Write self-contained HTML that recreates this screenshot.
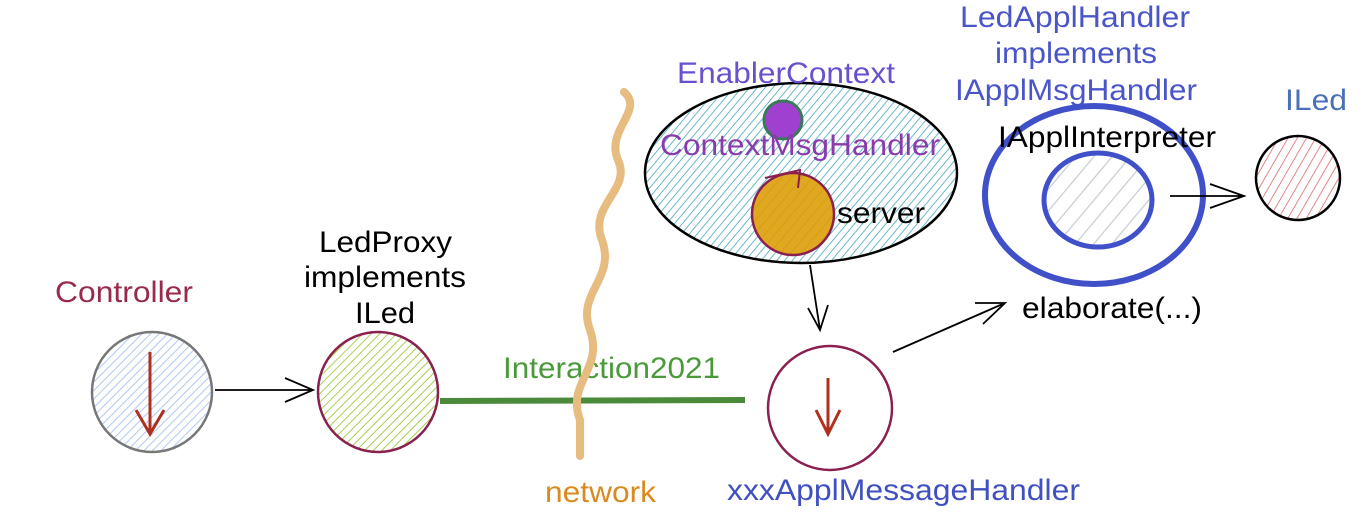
<!DOCTYPE html>
<html><head><meta charset="utf-8"><style>html,body{margin:0;padding:0;background:#fff;width:1366px;height:520px;overflow:hidden}</style></head><body>
<svg width="1366" height="520" viewBox="0 0 1366 520" xmlns="http://www.w3.org/2000/svg" font-family="Liberation Sans, sans-serif" font-size="30">
<defs>
<pattern id="hb" width="6" height="6" patternUnits="userSpaceOnUse" patternTransform="rotate(45)"><line x1="0" y1="0" x2="0" y2="6" stroke="#a8c4ec" stroke-width="1.8"/></pattern>
<pattern id="hg" width="6" height="6" patternUnits="userSpaceOnUse" patternTransform="rotate(45)"><line x1="0" y1="0" x2="0" y2="6" stroke="#a8d050" stroke-width="2"/></pattern>
<pattern id="hc" width="6" height="6" patternUnits="userSpaceOnUse" patternTransform="rotate(40)"><line x1="0" y1="0" x2="0" y2="6" stroke="#5ab0c4" stroke-width="1.8"/></pattern>
<pattern id="hy" width="8" height="8" patternUnits="userSpaceOnUse" patternTransform="rotate(40)"><rect width="8" height="8" fill="#e0a820"/><line x1="0" y1="0" x2="0" y2="8" stroke="#d49a10" stroke-width="1.5"/></pattern>
<pattern id="hgr" width="14" height="14" patternUnits="userSpaceOnUse" patternTransform="rotate(40)"><line x1="0" y1="0" x2="0" y2="14" stroke="#c8ccd4" stroke-width="2.5"/></pattern>
<pattern id="hr" width="8" height="8" patternUnits="userSpaceOnUse" patternTransform="rotate(30)"><line x1="0" y1="0" x2="0" y2="8" stroke="#e07878" stroke-width="1.8"/></pattern>
</defs>
<!-- Controller -->
<text x="55" y="302" fill="#9a2a4a" textLength="138" lengthAdjust="spacingAndGlyphs">Controller</text>
<circle cx="152" cy="392" r="60" fill="url(#hb)" stroke="#777" stroke-width="2.5"/>
<path d="M150 352 L150 432 M136 410 L150 434 L164 410" fill="none" stroke="#b03020" stroke-width="3"/>
<path d="M215 390 L313 390 M285 378 L313 390 L285 402" fill="none" stroke="#000" stroke-width="1.8"/>
<!-- LedProxy -->
<g fill="#000"><text x="319" y="252" textLength="133" lengthAdjust="spacingAndGlyphs">LedProxy</text><text x="304" y="287" textLength="162" lengthAdjust="spacingAndGlyphs">implements</text><text x="355" y="323" textLength="60" lengthAdjust="spacingAndGlyphs">ILed</text></g>
<circle cx="378" cy="392" r="60" fill="url(#hg)" stroke="#8a2050" stroke-width="2.5"/>
<line x1="440" y1="401" x2="745" y2="400" stroke="#4a8a3a" stroke-width="6"/>
<text x="503" y="378" fill="#4a9a3a" textLength="217" lengthAdjust="spacingAndGlyphs">Interaction2021</text>
<!-- network -->
<path d="M624 92 C645 110 605 130 618 160 C632 190 588 205 602 240 C616 280 576 292 590 330 C604 370 566 382 580 420 L580 456" fill="none" stroke="#e6bc80" stroke-width="8" stroke-linecap="round"/>
<text x="545" y="502" fill="#d98a20" textLength="111" lengthAdjust="spacingAndGlyphs">network</text>
<!-- EnablerContext -->
<ellipse cx="801" cy="173" rx="156" ry="90" fill="url(#hc)" stroke="#000" stroke-width="2.5"/>
<text x="677" y="83" fill="#6a4fcf" textLength="218" lengthAdjust="spacingAndGlyphs">EnablerContext</text>
<circle cx="783" cy="120" r="19" fill="#a040d0" stroke="#3a7a5a" stroke-width="3"/>
<text x="660" y="155" fill="#8a3aaa" textLength="280" lengthAdjust="spacingAndGlyphs">ContextMsgHandler</text>
<circle cx="793" cy="214" r="41" fill="url(#hy)" stroke="#8a2050" stroke-width="2.5"/>
<path d="M765 178 L800 170 L798 188" fill="none" stroke="#8a2050" stroke-width="2"/>
<text x="837" y="223" fill="#000" textLength="88" lengthAdjust="spacingAndGlyphs">server</text>
<path d="M810 265 L820 330 M808 308 L820 330 L828 305" fill="none" stroke="#000" stroke-width="1.8"/>
<!-- xxx -->
<circle cx="830" cy="408" r="62" fill="none" stroke="#8a2050" stroke-width="2.5"/>
<path d="M828 378 L828 432 M816 410 L828 434 L840 410" fill="none" stroke="#b03020" stroke-width="3"/>
<text x="727" y="500" fill="#4050c0" textLength="353" lengthAdjust="spacingAndGlyphs">xxxApplMessageHandler</text>
<path d="M893 352 L1005 303 M975 303 L1005 303 L983 324" fill="none" stroke="#000" stroke-width="1.8"/>
<text x="1022" y="318" fill="#000" textLength="180" lengthAdjust="spacingAndGlyphs">elaborate(...)</text>
<!-- LedApplHandler -->
<g fill="#4a55c8"><text x="960" y="27" textLength="230" lengthAdjust="spacingAndGlyphs">LedApplHandler</text><text x="995" y="63" textLength="162" lengthAdjust="spacingAndGlyphs">implements</text><text x="955" y="100" textLength="242" lengthAdjust="spacingAndGlyphs">IApplMsgHandler</text></g>
<ellipse cx="1094" cy="195" rx="109" ry="89" fill="none" stroke="#4050c8" stroke-width="6"/>
<ellipse cx="1098" cy="200" rx="54" ry="47" fill="url(#hgr)" stroke="#4050c8" stroke-width="5"/>
<text x="998" y="147" fill="#000" textLength="218" lengthAdjust="spacingAndGlyphs">IApplInterpreter</text>
<path d="M1170 196 L1244 196 M1210 184 L1244 196 L1210 208" fill="none" stroke="#000" stroke-width="1.8"/>
<circle cx="1298" cy="178" r="42" fill="url(#hr)" stroke="#000" stroke-width="2.5"/>
<text x="1285" y="110" fill="#4a70b8" textLength="62" lengthAdjust="spacingAndGlyphs">ILed</text>
</svg>
</body></html>
